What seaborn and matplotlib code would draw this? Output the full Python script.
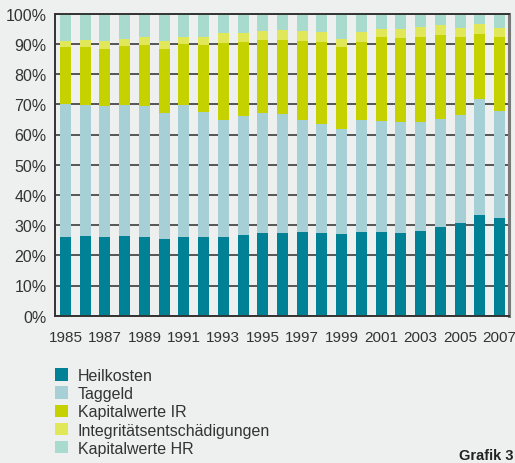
import matplotlib
matplotlib.use("Agg")
import matplotlib.pyplot as plt
from matplotlib.patches import Patch
import seaborn as sns
import numpy as np
import pandas as pd

years = [str(y) for y in range(1985, 2008)]
heilkosten = [26.1, 26.4, 26.1, 26.4, 26.1, 25.4, 26.1, 26.1, 26.1, 26.7, 27.4, 27.4,
              27.7, 27.4, 27.0, 27.7, 27.7, 27.4, 28.0, 29.4, 30.7, 33.3, 32.3]
taggeld = [43.9, 43.4, 43.3, 43.4, 43.3, 41.7, 43.7, 41.3, 38.7, 39.5, 39.7, 39.4,
           37.1, 36.1, 34.9, 37.1, 36.8, 36.7, 36.1, 35.7, 35.7, 38.4, 35.5]
kapital_ir = [19.0, 19.2, 18.9, 19.5, 20.2, 21.2, 20.2, 22.2, 25.5, 24.4, 24.2, 24.5,
              26.2, 27.1, 27.1, 25.8, 27.8, 27.8, 28.2, 27.8, 25.9, 21.5, 24.5]
integritaet = [2.0, 2.3, 2.7, 2.3, 2.7, 2.7, 2.3, 2.7, 3.3, 3.0, 3.0, 3.3,
               3.3, 3.3, 2.6, 3.3, 2.6, 3.0, 3.3, 3.3, 3.0, 3.4, 3.0]
kapital_hr = [9.0, 8.7, 9.0, 8.4, 7.7, 9.0, 7.7, 7.7, 6.4, 6.4, 5.7, 5.4,
              5.7, 6.1, 8.4, 6.1, 5.1, 5.1, 4.4, 3.8, 4.7, 3.4, 4.7]

series_names = ["Heilkosten", "Taggeld", "Kapitalwerte IR",
                "Integritätsentschädigungen", "Kapitalwerte HR"]
colors = ["#008195", "#a6cfd6", "#c5d200", "#e0e85a", "#a8dacd"]
tick_labels = years[::2]

series = [heilkosten, taggeld, kapital_ir, integritaet, kapital_hr]
arr = np.array(series)
totals = arr.sum(axis=0)
arr = arr / totals * 100.0
cum = np.cumsum(arr, axis=0)

sns.set_theme(style="white")
plt.rcParams["font.family"] = ["Liberation Sans", "DejaVu Sans"]
bg = "#eef0ef"

fig = plt.figure(figsize=(5.15, 4.64), dpi=100, facecolor=bg)
ax = fig.add_axes([55 / 515, (464 - 316.7) / 464, 454 / 515, 302 / 464])
ax.set_facecolor(bg)

for i in range(len(series) - 1, -1, -1):
    df = pd.DataFrame({"year": years, "value": cum[i]})
    sns.barplot(data=df, x="year", y="value", color=colors[i], saturation=1,
                width=0.56, ax=ax, linewidth=0, zorder=2)

ax.set_xlim(-0.53, 22.48)
ax.set_ylim(0, 100)
ax.set_yticks(np.arange(0, 101, 10))
ax.set_yticklabels([f"{v}%" for v in range(0, 101, 10)], fontsize=11.5, color="#333333")
ax.set_xticks(range(0, len(years), 2))
ax.set_xticklabels(tick_labels, fontsize=11, color="#333333")
ax.tick_params(axis="y", length=0, pad=6)
ax.tick_params(axis="x", length=0, pad=10)
ax.set_xlabel("")
ax.set_ylabel("")
ax.set_axisbelow(True)
ax.yaxis.grid(True, color="#555555", linewidth=1.4)
ax.xaxis.grid(False)
for side in ["left", "bottom", "top"]:
    ax.spines[side].set_visible(True)
    ax.spines[side].set_color("#333333")
    ax.spines[side].set_linewidth(1.4)
ax.spines["right"].set_visible(True)
ax.spines["right"].set_color("#7a7a7a")
ax.spines["right"].set_linewidth(2.2)

handles = [Patch(facecolor=c, edgecolor="none") for c in colors]
fig.legend(handles, series_names, loc="upper left",
           bbox_to_anchor=(55 / 515, (464 - 369) / 464),
           frameon=False, fontsize=11.5, handlelength=0.82, handleheight=0.82,
           handletextpad=0.6, labelspacing=0.2, borderpad=0, borderaxespad=0,
           labelcolor="#333333")

fig.text(459 / 515, 1 / 464, "Grafik 3", fontsize=10.5, fontweight="bold",
         color="#222222", ha="left", va="bottom")

fig.savefig("out.png", dpi=100, facecolor=bg)
